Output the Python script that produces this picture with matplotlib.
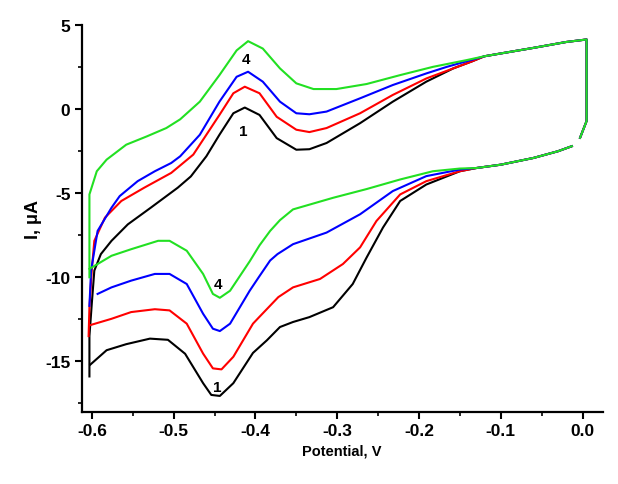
import matplotlib
matplotlib.use("Agg")
import matplotlib.pyplot as plt
from matplotlib.ticker import MultipleLocator

plt.rcParams['font.family'] = ['Liberation Sans', 'DejaVu Sans']

# ---- data (potential V, current uA) ----
common_up_x = [-0.120, -0.101, -0.060, -0.020, 0.005, 0.005, -0.003]
common_up_y = [3.15, 3.31, 3.65, 4.00, 4.15, -0.70, -1.70]
common_lo_x = [-0.013, -0.030, -0.060, -0.100, -0.130]
common_lo_y = [-2.20, -2.50, -2.90, -3.30, -3.50]

# curve 1 (black)
c1_lo_x = [-0.150, -0.191, -0.223, -0.244, -0.264, -0.281, -0.305, -0.334, -0.354, -0.370,
           -0.386, -0.403, -0.427, -0.4435, -0.454, -0.464, -0.486, -0.507, -0.529, -0.558,
           -0.582, -0.602]
c1_lo_y = [-3.69, -4.48, -5.46, -7.04, -8.82, -10.4, -11.78, -12.37, -12.66, -12.96,
           -13.75, -14.5, -16.3, -17.06, -17.0, -16.3, -14.55, -13.72, -13.65, -13.98,
           -14.34, -15.2]
c1_up_x = [-0.603, -0.603, -0.600, -0.597, -0.589, -0.576, -0.556, -0.528, -0.495, -0.479,
           -0.460, -0.444, -0.427, -0.413, -0.395, -0.374, -0.350, -0.334, -0.313, -0.272,
           -0.232, -0.191, -0.158, -0.135]
c1_up_y = [-15.9, -13.5, -11.5, -9.6, -8.62, -7.83, -6.85, -5.86, -4.67, -4.0,
           -2.8, -1.52, -0.24, 0.10, -0.34, -1.72, -2.41, -2.38, -2.01, -0.83,
           0.45, 1.64, 2.43, 2.85]

# curve 2 (red)
c2_lo_x = [-0.150, -0.191, -0.223, -0.252, -0.272, -0.293, -0.321, -0.354, -0.372, -0.396,
           -0.403, -0.427, -0.4415, -0.452, -0.464, -0.484, -0.505, -0.523, -0.552, -0.576,
           -0.603]
c2_lo_y = [-3.69, -4.28, -5.07, -6.65, -8.22, -9.21, -10.1, -10.6, -11.18, -12.4,
           -12.76, -14.73, -15.48, -15.42, -14.54, -12.76, -11.97, -11.9, -12.07, -12.47,
           -12.86]
c2_up_x = [-0.604, -0.603, -0.600, -0.597, -0.584, -0.564, -0.536, -0.503, -0.476, -0.460,
           -0.444, -0.427, -0.413, -0.395, -0.374, -0.350, -0.334, -0.313, -0.272, -0.232,
           -0.191, -0.158, -0.135]
c2_up_y = [-13.5, -11.8, -9.5, -7.83, -6.45, -5.46, -4.67, -3.79, -2.70, -1.52,
           -0.34, 0.95, 1.34, 0.95, -0.45, -1.22, -1.36, -1.12, -0.24, 0.85,
           1.83, 2.43, 2.85]

# curve 3 (blue)
c3_lo_x = [-0.150, -0.191, -0.232, -0.272, -0.313, -0.354, -0.373, -0.382, -0.396, -0.407,
           -0.431, -0.4435, -0.452, -0.464, -0.484, -0.505, -0.523, -0.552, -0.576, -0.593]
c3_lo_y = [-3.59, -3.98, -4.87, -6.25, -7.34, -8.03, -8.62, -9.0, -10.0, -10.8,
           -12.76, -13.2, -13.06, -12.17, -10.4, -9.8, -9.8, -10.2, -10.6, -10.99]
c3_up_x = [-0.603, -0.601, -0.593, -0.576, -0.566, -0.544, -0.523, -0.503, -0.492, -0.468,
           -0.444, -0.423, -0.409, -0.391, -0.370, -0.350, -0.334, -0.313, -0.272, -0.232,
           -0.191, -0.166, -0.142]
c3_up_y = [-11.7, -9.6, -7.24, -5.86, -5.17, -4.28, -3.69, -3.20, -2.80, -1.52,
           0.45, 1.93, 2.23, 1.64, 0.45, -0.24, -0.30, -0.14, 0.65, 1.44,
           2.13, 2.52, 2.85]

# curve 4 (green)
c4_lo_x = [-0.150, -0.183, -0.223, -0.264, -0.305, -0.354, -0.370, -0.382, -0.395, -0.407,
           -0.431, -0.4435, -0.452, -0.464, -0.484, -0.505, -0.519, -0.552, -0.576, -0.603]
c4_lo_y = [-3.53, -3.69, -4.18, -4.75, -5.27, -5.96, -6.6, -7.24, -8.1, -9.05,
           -10.8, -11.22, -10.99, -9.8, -8.42, -7.83, -7.83, -8.33, -8.72, -9.5]
c4_up_x = [-0.603, -0.603, -0.594, -0.582, -0.558, -0.533, -0.509, -0.492, -0.468, -0.444,
           -0.423, -0.409, -0.391, -0.370, -0.350, -0.329, -0.301, -0.264, -0.223, -0.183,
           -0.142]
c4_up_y = [-10.0, -5.07, -3.69, -3.00, -2.11, -1.62, -1.12, -0.60, 0.45, 2.03,
           3.50, 4.05, 3.61, 2.43, 1.54, 1.20, 1.20, 1.50, 2.03, 2.52,
           2.92]

label_pos_x = [-0.415, -0.412, -0.447, -0.446]
label_pos_y = [-1.28, 3.0, -16.5, -10.4]
label_text = ["1", "4", "1", "4"]

curves = [
    (c1_lo_x, c1_lo_y, c1_up_x, c1_up_y, "black"),
    (c2_lo_x, c2_lo_y, c2_up_x, c2_up_y, "#ff0000"),
    (c3_lo_x, c3_lo_y, c3_up_x, c3_up_y, "#0000ff"),
    (c4_lo_x, c4_lo_y, c4_up_x, c4_up_y, "#22e022"),
]

fig = plt.figure(figsize=(6.18, 4.85), dpi=100)
ax = fig.add_axes([0.132, 0.149, 0.843, 0.797])

for lo_x, lo_y, up_x, up_y, col in curves:
    ax.plot(common_lo_x + lo_x, common_lo_y + lo_y, color=col, lw=1.5)
    ax.plot(up_x + common_up_x, up_y + common_up_y, color=col, lw=1.5)

for tx, ty, t in zip(label_pos_x, label_pos_y, label_text):
    ax.text(tx, ty, t, fontsize=11, fontweight='bold', ha='center', va='center')

ax.set_xlim(-0.6126, 0.0245)
ax.set_ylim(-18, 5)
ax.xaxis.set_minor_locator(MultipleLocator(0.05))
ax.yaxis.set_minor_locator(MultipleLocator(2.5))
ax.set_xticks([-0.6, -0.5, -0.4, -0.3, -0.2, -0.1, 0.0])
ax.set_xticklabels(["-0.6", "-0.5", "-0.4", "-0.3", "-0.2", "-0.1", "0.0"])
ax.set_yticks([5, 0, -5, -10, -15])
ax.set_yticklabels(["5", "0", "-5", "-10", "-15"])

for s in ['top', 'right']:
    ax.spines[s].set_visible(False)
for s in ['left', 'bottom']:
    ax.spines[s].set_linewidth(1.6)

ax.tick_params(which='major', direction='out', length=5, width=1.5, labelsize=12.5, pad=3)
ax.tick_params(which='minor', direction='out', length=3, width=1.2)
for lab in ax.get_xticklabels() + ax.get_yticklabels():
    lab.set_fontweight('bold')

ax.set_xlabel("Potential, V", fontsize=10.5, fontweight='bold', labelpad=4)
ax.set_ylabel("I, μA", fontsize=13, fontweight='bold', labelpad=2)

fig.savefig("out.png", dpi=100)
